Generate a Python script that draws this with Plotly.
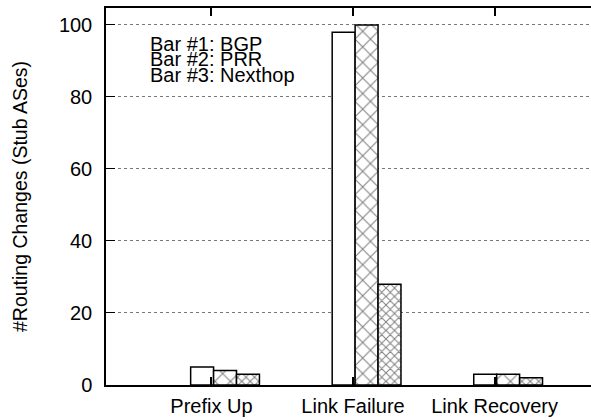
import plotly.graph_objects as go

categories = ["Prefix Up", "Link Failure", "Link Recovery"]
bgp = [5, 98, 3]
prr = [4, 100, 3]
nexthop = [3, 28, 2]
series_names = ["BGP", "PRR", "Nexthop"]
y_ticks = [0, 20, 40, 60, 80, 100]

FONT = "Liberation Sans, Arial, Helvetica, sans-serif"
pos = list(range(len(categories)))
bar_w = 0.162

fig = go.Figure()

styles = [
    dict(shape="", size=8, solidity=0.2),
    dict(shape="x", size=11, solidity=0.18),
    dict(shape="x", size=6, solidity=0.3),
]
for i, (name, vals) in enumerate(zip(series_names, [bgp, prr, nexthop])):
    fig.add_trace(go.Bar(
        x=pos, y=vals, name=name,
        width=bar_w, offset=-0.147 + i * bar_w,
        marker=dict(color="white",
                    line=dict(color="black", width=1.5),
                    pattern=dict(shape=styles[i]["shape"], size=styles[i]["size"],
                                 solidity=styles[i]["solidity"],
                                 fgcolor="black", bgcolor="white")),
        showlegend=False,
    ))

# labels for the bars, written like gnuplot's key text
for i, name in enumerate(series_names):
    fig.add_annotation(
        text=f"Bar #{i + 1}: {name}",
        xref="paper", yref="paper",
        x=0.085, y=0.905 - i * 0.0415,
        xanchor="left", yanchor="middle", showarrow=False,
        font=dict(family=FONT, size=20, color="black"),
    )

# the original plot runs past the right edge of the picture, so the
# figure is a bit wider than the window and the page is clipped
fig.update_layout(
    width=600, height=420,
    margin=dict(l=106, r=0, t=8, b=35, autoexpand=False),
    plot_bgcolor="white", paper_bgcolor="white",
    barmode="overlay",
    font=dict(family=FONT, size=20, color="black"),
    xaxis=dict(
        range=[-0.745, 2.745],
        tickvals=pos, ticktext=categories,
        ticks="inside", ticklen=8, tickwidth=1.5, tickcolor="black",
        mirror="ticks", showgrid=False, zeroline=False,
        showline=True, linecolor="black", linewidth=1.5,
        ticklabelstandoff=2, automargin=False,
    ),
    yaxis=dict(
        range=[0, 104.7],
        tickvals=y_ticks,
        ticks="inside", ticklen=9, tickwidth=1.2, tickcolor="black",
        showgrid=True, gridcolor="#777", griddash="dot", gridwidth=1,
        zeroline=False,
        showline=True, linecolor="black", linewidth=1.5,
        title=dict(text="#Routing Changes (Stub ASes)", standoff=26,
                   font=dict(family=FONT, size=19.5, color="black")),
        ticklabelstandoff=8, automargin=False,
    ),
)

fig.write_html("out.html", config={"displayModeBar": False},
               post_script="document.body.style.margin='0';"
                           "document.body.style.overflow='hidden';"
                           "document.documentElement.style.overflow='hidden';")
